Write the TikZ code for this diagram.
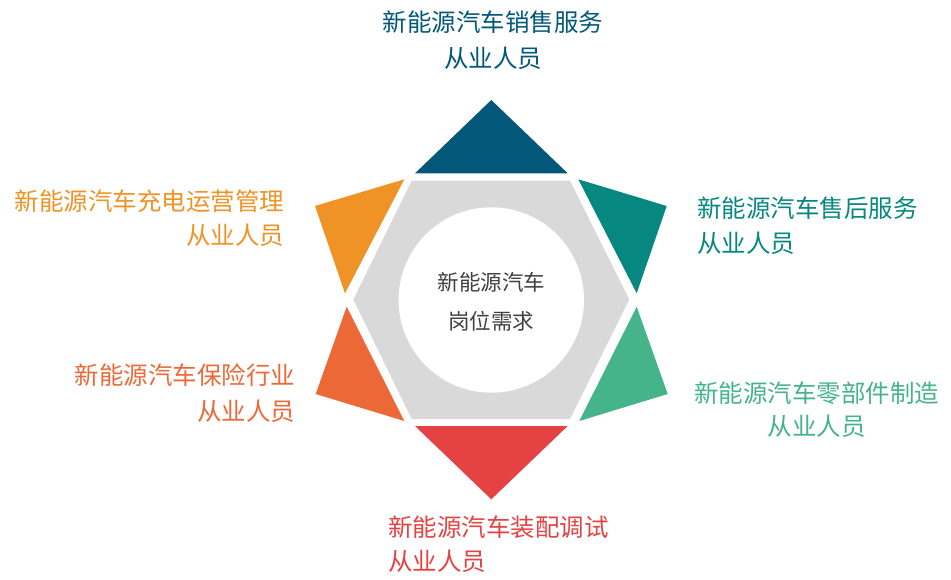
\documentclass[tikz,border=0pt]{standalone}
\usepackage{fontspec}
\newfontfamily\cjk{Noto Sans CJK SC}
\definecolor{cTop}{HTML}{03587A}
\definecolor{cTR}{HTML}{06877F}
\definecolor{cBR}{HTML}{45B48A}
\definecolor{cBot}{HTML}{E54343}
\definecolor{cBL}{HTML}{EC6937}
\definecolor{cTL}{HTML}{F09327}
\definecolor{cHex}{HTML}{D9D9D9}
\definecolor{cCen}{HTML}{404040}
\begin{document}
\begin{tikzpicture}[x=1pt,y=-1pt,
  lab/.style={font=\cjk\fontsize{24.5}{30}\selectfont, inner sep=0pt},
  cen/.style={font=\cjk\fontsize{21.5}{26}\selectfont, inner sep=0pt, text=cCen}]
\useasboundingbox[fill=white] (0,0) rectangle (951,580);
% hexagon and circle
\fill[cHex] (353.3,299.5) -- (411.7,180.7) -- (570,180.7) -- (629.3,299.5) -- (570,419) -- (411.7,419) -- cycle;
\fill[white] (491.3,300) circle[radius=92.7];
% triangles
\fill[cTop] (491.3,100) -- (415,173.3) -- (567.7,173.3) -- cycle;
\fill[cTR] (578.3,179.3) -- (666.7,206) -- (636.7,293.3) -- cycle;
\fill[cBR] (636.7,306.7) -- (667.7,394) -- (579.3,421) -- cycle;
\fill[cBot] (415,426) -- (567.7,426) -- (491.3,499.3) -- cycle;
\fill[cBL] (346.7,306.7) -- (404.3,421) -- (315.7,394) -- cycle;
\fill[cTL] (404.3,179.3) -- (315,206) -- (345,293.3) -- cycle;
% centre text
\node[cen] (c1) at (491.3,282.7) {新能源汽车};
\node[cen] (c2) at (491.3,321.7) {岗位需求};
% labels
\node[lab, text=cTop] (t1) at (493,21.7) {新能源汽车销售服务};
\node[lab, text=cTop] (t2) at (493,58.3) {从业人员};
\node[lab, text=cTR, anchor=west] (r1) at (697,208.3) {新能源汽车售后服务};
\node[lab, text=cTR, anchor=west] (r2) at (697,243.3) {从业人员};
\node[lab, text=cBR] (g1) at (816.5,393.3) {新能源汽车零部件制造};
\node[lab, text=cBR] (g2) at (816.5,426.7) {从业人员};
\node[lab, text=cBot, anchor=west] (b1) at (388,526.7) {新能源汽车装配调试};
\node[lab, text=cBot, anchor=west] (b2) at (388,561.7) {从业人员};
\node[lab, text=cBL, anchor=east] (l1) at (295.5,375) {新能源汽车保险行业};
\node[lab, text=cBL, anchor=east] (l2) at (295.5,411.7) {从业人员};
\node[lab, text=cTL, anchor=east] (o1) at (284.5,200.7) {新能源汽车充电运营管理};
\node[lab, text=cTL, anchor=east] (o2) at (284.5,235.7) {从业人员};
\end{tikzpicture}
\end{document}
